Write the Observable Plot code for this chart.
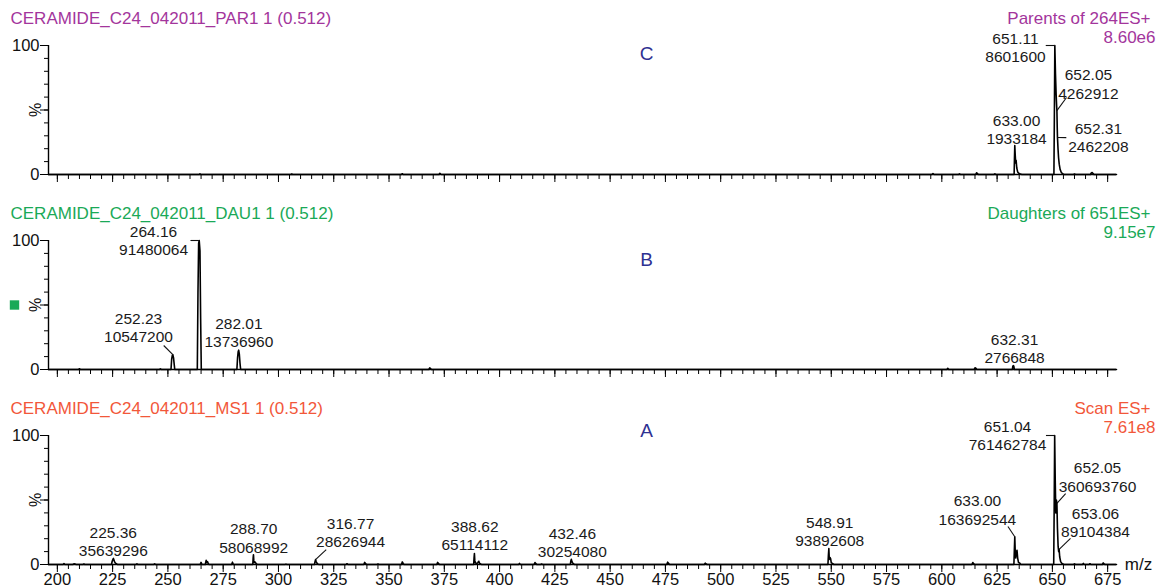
<!DOCTYPE html>
<html><head><meta charset="utf-8">
<script src="https://cdn.jsdelivr.net/npm/d3@7"></script>
<script src="https://cdn.jsdelivr.net/npm/@observablehq/plot@0.6"></script>
<style>
body{margin:0;background:#fff;}
#chart{position:relative;width:1161px;height:588px;overflow:hidden;}
#chart svg{position:absolute;left:0;overflow:visible;}
</style></head><body><div id="chart"></div>
<script>
// ---------- DATA ----------
// Profile spectra: [m/z, relative intensity %]
const spectrumC = [
  [196,0],
  [264.2,0],[264.5,0.5],[264.8,0],
  [305.7,0],[306,0.4],[306.3,0],
  [355.6,0],[356,0.6],[356.4,0],
  [372.6,0],[373,0.9],[373.4,0.3],[373.8,0],
  [595.5,0],[596,0.8],[596.5,0],
  [607.6,0],[608,0.5],[608.4,0],
  [615.3,0],[615.7,1.3],[616.1,0.8],[616.5,0],
  [623.6,0],[624,0.5],[624.4,0],
  [632.7,0],[632.85,12],[633.0,22.5],[633.2,15],[633.4,9],[633.6,11],[633.9,5],[634.3,2],[634.8,1],[635.5,0.4],[636.2,0],
  [650.7,0],[650.9,45],[651.11,100],[651.4,78],[651.7,62],[651.9,54],[652.05,49.6],[652.2,36],[652.31,28.6],[652.55,20],[652.8,13],[653.1,8],[653.5,4],[654,1.8],[654.6,0.6],[655.3,0],
  [659.6,0],[660,0.4],[660.4,0],
  [667.2,0],[667.6,1.2],[668,1.5],[668.4,0.8],[668.8,0],
  [679,0]
];
const spectrumB = [
  [196,0],
  [209.6,0],[210,0.6],[210.4,0],
  [246.2,0],[246.6,0.5],[247,0],
  [251.4,0],[251.7,8],[252.0,11],[252.23,11.5],[252.55,9],[252.85,4],[253.1,0],
  [263.3,0],[263.6,60],[263.9,98],[264.16,100],[264.5,92],[264.8,40],[265.1,0],
  [281.2,0],[281.5,9],[281.8,14],[282.01,15],[282.3,12],[282.6,5],[282.9,0],
  [368,0],[368.4,1.2],[368.8,0.6],[369.2,0],
  [602.3,0],[602.7,0.9],[603.1,0],
  [614.6,0],[615,1.3],[615.4,1],[615.8,0],
  [631.9,0],[632.1,2.5],[632.31,3],[632.55,2.6],[632.8,0],
  [679,0]
];
const spectrumA = [
  [196,0],
  [202.6,0],[203,0.7],[203.4,0],
  [207,0],[207.5,0.5],[208,0.3],[208.5,0],
  [211.6,0],[212,0.4],[212.4,0],
  [224.5,0],[224.8,2.5],[225.1,3.8],[225.36,4.7],[225.6,3.5],[225.9,2],[226.3,1],[226.8,0.4],[227.3,0],
  [235.6,0],[236,0.5],[236.4,0],
  [243.6,0],[244,0.5],[244.4,0],
  [264.6,0],[265,1.6],[265.4,0],
  [266.9,0],[267.3,3.2],[267.6,1.5],[267.9,2.2],[268.3,0.5],[268.7,0],
  [278.8,0],[279.2,1.8],[279.6,0],
  [288.4,0],[288.55,5],[288.7,7.6],[288.85,3],[289.1,1.5],[289.5,1.8],[289.9,0.6],[290.4,0],
  [303,0],[303.4,0.3],[303.8,0],
  [316.3,0],[316.5,2],[316.77,3.8],[317.0,2.5],[317.4,1],[317.9,0.3],[318.3,0],
  [330.6,0],[331,0.6],[331.4,0],
  [338.6,0],[339,1.6],[339.4,0.8],[339.8,0],
  [344.6,0],[345,0.4],[345.4,0],
  [355.6,0],[356,2],[356.4,0.8],[356.8,0],
  [371.6,0],[372,1.6],[372.4,0.8],[372.8,0],
  [388.3,0],[388.45,5],[388.62,8.55],[388.8,3],[389.1,1.2],[389.6,0.6],[390.2,1.5],[390.6,2.5],[390.9,1],[391.4,0.4],[391.9,0],
  [408.6,0],[409,0.8],[409.4,0],
  [415.6,0],[416,1.5],[416.4,0.8],[416.8,0],
  [418.6,0],[419,0.4],[419.4,0],
  [432,0],[432.2,2.5],[432.46,4],[432.7,2.4],[433,1.2],[433.5,0.5],[434,0],
  [475.6,0],[476,1.8],[476.4,1],[476.8,0],
  [492.6,0],[493,1],[493.4,0.5],[493.8,0],
  [548.5,0],[548.7,7],[548.91,12.3],[549.1,4],[549.4,5.5],[549.7,4.5],[550,1.5],[550.5,0.8],[551.2,0],
  [613.6,0],[614,1.5],[614.4,0.6],[614.8,0],
  [632.6,0],[632.8,11],[633.0,21.5],[633.2,10],[633.4,5],[633.7,9],[634.0,11],[634.3,5],[634.7,1.5],[635.2,1.2],[635.7,0],
  [650.6,0],[650.8,40],[651.04,100],[651.3,65],[651.55,40],[651.8,50],[652.05,47.4],[652.3,28],[652.6,14],[652.85,10],[653.06,11.7],[653.3,6],[653.7,2.5],[654.2,1],[654.8,0.3],[655.3,0],
  [659.6,0],[660,0.5],[660.4,0],
  [663.6,0],[664,0.8],[664.4,0],
  [666.6,0],[667,0.6],[667.4,0],
  [672.6,0],[673,1.2],[673.4,0.5],[673.8,0],
  [679,0]
];

// Labelled peaks: m/z and absolute intensity
const peakMzC  = [651.11, 652.05, 652.31, 633.00];
const peakIntC = [8601600, 4262912, 2462208, 1933184];
const peakMzB  = [264.16, 252.23, 282.01, 632.31];
const peakIntB = [91480064, 10547200, 13736960, 2766848];
const peakMzA  = [651.04, 652.05, 653.06, 633.00, 548.91, 432.46, 388.62, 316.77, 288.70, 225.36];
const peakIntA = [761462784, 360693760, 89104384, 163692544, 93892608, 30254080, 65114112, 28626944, 58068992, 35639296];

const titlesLeft  = ["CERAMIDE_C24_042011_PAR1 1 (0.512)", "CERAMIDE_C24_042011_DAU1 1 (0.512)", "CERAMIDE_C24_042011_MS1 1 (0.512)"];
const titlesRight = ["Parents of 264ES+", "Daughters of 651ES+", "Scan ES+"];
const maxLabels   = ["8.60e6", "9.15e7", "7.61e8"];
const panelLetters = ["C", "B", "A"];
const xTickValues = d3.range(200, 676, 25);

// ---------- LAYOUT (annotation placement, data units) ----------
// [label m/z, label %, leader end m/z, leader end %] (leader starts at peak top)
const layoutC = [[633.3,99,647.0,100],[666.3,70.5,656.4,59.7],[670.8,29,656.3,28.6],[633.8,35,null,null]];
const layoutB = [[243.5,100,260.2,100],[236.7,32.8,248.1,18.6],[282.1,28.9,null,null],[632.9,16.3,null,null]];
const layoutA = [[629.7,100,647.1,100],[670.4,68.2,656.0,55],[669.5,32.9,658.2,20.2],[616.1,42.6,629.9,29.5],
                 [549.3,25.6,null,null],[432.9,17.6,null,null],[388.8,22.5,null,null],[332.6,25.3,321.6,11.6],
                 [288.8,20.9,null,null],[225.3,18,null,null]];

const X_DOMAIN = [196, 679];
const FONT = "'Liberation Sans', Arial, Helvetica, sans-serif";
const colors = ["#a3359c", "#1aa957", "#f2573a"];
const letterColor = "#2e3192";

function makePanel(i, spectrum, peakMz, peakInt, layout, opt) {
  const max = d3.max(peakInt);
  const peaks = peakMz.map((mz, k) => ({
    mz, int: peakInt[k], pct: peakInt[k] / max * 100,
    lx: layout[k][0], ly: layout[k][1], ex: layout[k][2], ey: layout[k][3]
  }));
  const leaders = peaks.filter(p => p.ex != null);
  const pts = spectrum.map(([mz, pct]) => ({mz, pct}));
  const marks = [
    Plot.axisY({ticks: d3.range(0, 101, 10), tickSize: 4, tickFormat: () => "", label: null, strokeWidth: 1}),
    Plot.axisY({ticks: [0, 50, 100], tickSize: 8, tickPadding: 1, tickFormat: d => d === 50 ? "" : String(d), label: null, fontSize: 16.5, fill: "#111"}),
    Plot.axisX({ticks: d3.range(200, 676, 5), tickSize: 5, tickFormat: () => "", label: null}),
    Plot.axisX({ticks: xTickValues, tickSize: 8, tickPadding: 1, tickFormat: opt.xLabels ? d => String(d) : () => "", label: null, fontSize: 16.5, fill: "#111"}),
    Plot.ruleY([0], {stroke: "#000", strokeWidth: 1.4}),
    Plot.ruleX([X_DOMAIN[0]], {y1: 0, y2: 100, stroke: "#000", strokeWidth: 1.4}),
    Plot.line(pts, {x: "mz", y: "pct", stroke: "#000", strokeWidth: 1.6}),
    Plot.link(leaders, {x1: "mz", y1: "pct", x2: "ex", y2: "ey", stroke: "#111", strokeWidth: 1.1}),
    Plot.text(peaks, {x: "lx", y: "ly", text: d => `${d.mz.toFixed(2)}\n${d.int}`, lineAnchor: "middle", lineHeight: 1.18, fontSize: 15.5, fill: "#1a1a1a"}),
    Plot.text([titlesLeft[i]], {frameAnchor: "top-left", dx: -38, dy: -27, textAnchor: "start", lineAnchor: "middle", fill: colors[i], fontSize: 17}),
    Plot.text([titlesRight[i]], {frameAnchor: "top-right", dx: 34, dy: -27, textAnchor: "end", lineAnchor: "middle", fill: colors[i], fontSize: 17}),
    Plot.text([maxLabels[i]], {frameAnchor: "top-right", dx: 39, dy: -8, textAnchor: "end", lineAnchor: "middle", fill: colors[i], fontSize: 17}),
    Plot.text([panelLetters[i]], {frameAnchor: "top-left", dx: 598, dy: opt.letterDy, textAnchor: "middle", lineAnchor: "middle", fill: letterColor, fontSize: 19}),
    Plot.text(["%"], {frameAnchor: "left", dx: -13, rotate: -90, textAnchor: "middle", lineAnchor: "middle", fontSize: 16, fill: "#111"})
  ];
  if (opt.square) marks.push(Plot.dot([0], {frameAnchor: "left", dx: -34, symbol: "square", r: 5.3, fill: colors[i]}));
  if (opt.xLabels) marks.push(Plot.text(["m/z"], {frameAnchor: "bottom-right", dx: 22, textAnchor: "middle", lineAnchor: "middle", fontSize: 17, fill: "#111"}));
  const svg = Plot.plot({
    width: 1161, height: opt.height,
    marginLeft: 48, marginRight: 45, marginTop: 45, marginBottom: opt.height - 174,
    x: {domain: X_DOMAIN},
    y: {domain: [0, 100]},
    style: {fontFamily: FONT, fontSize: "16px", color: "#000", background: "transparent", overflow: "visible"},
    marks
  });
  svg.style.top = opt.top + "px";
  document.getElementById("chart").appendChild(svg);
}

makePanel(0, spectrumC, peakMzC, peakIntC, layoutC, {top: 0, height: 195, letterDy: 8});
makePanel(1, spectrumB, peakMzB, peakIntB, layoutB, {top: 195, height: 195, letterDy: 19, square: true});
makePanel(2, spectrumA, peakMzA, peakIntA, layoutA, {top: 390, height: 198, letterDy: -5, xLabels: true});
</script></body></html>
